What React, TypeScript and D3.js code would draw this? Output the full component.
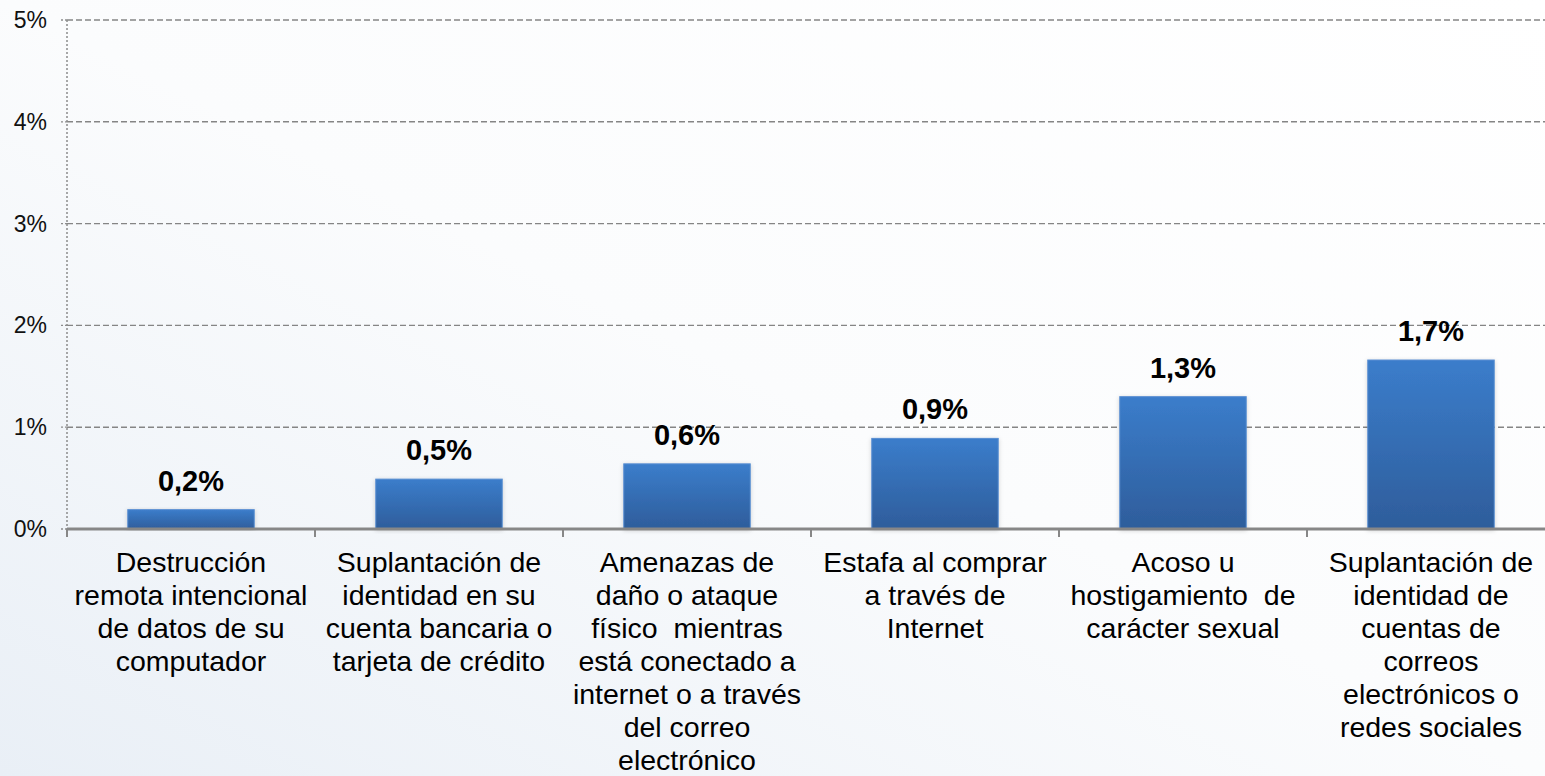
import React from "react";
import * as d3 from "d3";

const categories: string[][] = [
  ["Destrucción", "remota intencional", "de datos de su", "computador"],
  ["Suplantación de", "identidad en su", "cuenta bancaria o", "tarjeta de crédito"],
  ["Amenazas de", "daño o ataque", "físico  mientras", "está conectado a", "internet o a través", "del correo", "electrónico"],
  ["Estafa al comprar", "a través de", "Internet"],
  ["Acoso u", "hostigamiento  de", "carácter sexual"],
  ["Suplantación de", "identidad de", "cuentas de", "correos", "electrónicos o", "redes sociales"],
];
const values: number[] = [0.19, 0.49, 0.64, 0.89, 1.3, 1.66];
const valueLabels: string[] = ["0,2%", "0,5%", "0,6%", "0,9%", "1,3%", "1,7%"];
const yTicks: number[] = [0, 1, 2, 3, 4, 5];

const W = 1545;
const H = 776;
const FONT = "'Liberation Sans', Arial, Helvetica, sans-serif";

export default function App() {
  const ids = categories.map((_, i) => String(i));
  const x = d3
    .scaleBand<string>()
    .domain(ids)
    .range([67, 1555])
    .paddingInner(0.49)
    .paddingOuter(0.245);
  const y = d3.scaleLinear().domain([0, 5]).range([529, 20]);
  const step = x.step();
  const bw = x.bandwidth();
  const boundaries = ids.map((id) => (x(id) as number) + bw / 2 - step / 2);
  boundaries.push(boundaries[boundaries.length - 1] + step);

  return (
    <svg
      width={W}
      height={H}
      style={{ position: "absolute", left: 0, top: 0, overflow: "hidden" }}
      fontFamily={FONT}
    >
      <defs>
        <linearGradient id="bg" x1="1" y1="0" x2="0" y2="1">
          <stop offset="0" stopColor="#ffffff" />
          <stop offset="0.5" stopColor="#fbfcfd" />
          <stop offset="1" stopColor="#e9eff6" />
        </linearGradient>
        <linearGradient id="bar" x1="0" y1="0" x2="0" y2="1">
          <stop offset="0" stopColor="#3b7dcb" />
          <stop offset="1" stopColor="#2e5d9b" />
        </linearGradient>
        <filter id="sh" x="-10%" y="-10%" width="120%" height="120%">
          <feDropShadow dx="0" dy="1" stdDeviation="2" floodColor="#000" floodOpacity="0.18" />
        </filter>
      </defs>
      <rect x={0} y={0} width={W} height={H} fill="url(#bg)" />

      {/* grid lines */}
      {yTicks
        .filter((t) => t > 0)
        .map((t) => (
          <line
            key={"g" + t}
            x1={67}
            x2={W}
            y1={y(t)}
            y2={y(t)}
            stroke="#858585"
            strokeWidth={1.4}
            strokeDasharray="6,3"
          />
        ))}

      {/* y axis dotted */}
      <line x1={67} x2={67} y1={y(5)} y2={y(0) + 8} stroke="#8c8c8c" strokeWidth={1.5} strokeDasharray="2,2" />
      {yTicks.map((t) => (
        <g key={"yt" + t}>
          <line x1={61} x2={67} y1={y(t)} y2={y(t)} stroke="#8c8c8c" strokeWidth={1.3} strokeDasharray="2,2" />
          <text x={47} y={y(t)} dy="0.35em" textAnchor="end" fontSize={23} fill="#111">
            {t + "%"}
          </text>
        </g>
      ))}

      {/* bars */}
      {values.map((v, i) => (
        <rect
          key={"b" + i}
          x={x(ids[i])}
          y={y(v)}
          width={bw}
          height={y(0) - y(v)}
          fill="url(#bar)"
          stroke="#5a8fd2"
          strokeWidth={1}
          filter="url(#sh)"
        />
      ))}

      {/* x axis */}
      <line x1={67} x2={W} y1={y(0)} y2={y(0)} stroke="#878787" strokeWidth={3} />
      {boundaries.map((b, i) => (
        <line key={"xt" + i} x1={b} x2={b} y1={y(0)} y2={y(0) + 8} stroke="#878787" strokeWidth={2} />
      ))}

      {/* value labels */}
      {values.map((v, i) => (
        <text
          key={"v" + i}
          x={(x(ids[i]) as number) + bw / 2}
          y={y(v) - 19}
          textAnchor="middle"
          fontSize={29}
          fontWeight="bold"
          fill="#000"
        >
          {valueLabels[i]}
        </text>
      ))}

      {/* category labels */}
      {categories.map((lines, i) => (
        <text
          key={"c" + i}
          x={(x(ids[i]) as number) + bw / 2}
          y={572}
          textAnchor="middle"
          fontSize={28.5}
          fill="#000"
        >
          {lines.map((l, j) => (
            <tspan key={j} x={(x(ids[i]) as number) + bw / 2} y={572 + j * 33} style={{ whiteSpace: "pre" }}>
              {l}
            </tspan>
          ))}
        </text>
      ))}
    </svg>
  );
}
